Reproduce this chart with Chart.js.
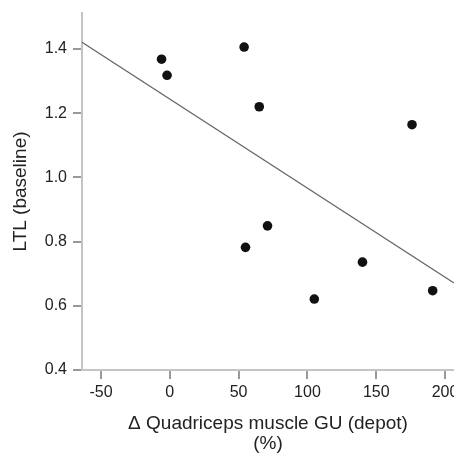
<!DOCTYPE html>
<html>
<head>
<meta charset="utf-8">
<script src="https://cdn.jsdelivr.net/npm/chart.js@4/dist/chart.umd.min.js"></script>
<style>
  html, body { margin: 0; padding: 0; background: #fff; overflow: hidden; }
  #wrap { width: 454px; height: 454px; }
</style>
</head>
<body>
<div id="wrap"><canvas id="c" width="454" height="454"></canvas></div>
<script>
// Scatter points: Δ Quadriceps muscle GU (depot) (%) vs LTL (baseline)
const gu = [-6, -2, 54, 65, 176, 71, 55, 140, 105, 191];
const ltl = [1.368, 1.318, 1.406, 1.220, 1.164, 0.849, 0.782, 0.736, 0.621, 0.647];

// Regression line endpoints
const fitX = [-63.8, 206.5];
const fitY = [1.421, 0.671];

// Axis ranges and tick labels
const xRange = [-63.8, 206.5];
const yRange = [0.4, 1.512];
const xTicks = [-50, 0, 50, 100, 150, 200];
const yTicks = [0.4, 0.6, 0.8, 1.0, 1.2, 1.4];

const xTitle = ['\u0394 Quadriceps muscle GU (depot)', '(%)'];
const yTitle = 'LTL (baseline)';

const FONT = "'Liberation Sans', Arial, Helvetica, sans-serif";

const points = gu.map((x, i) => ({ x: x, y: ltl[i] }));
const fitLine = fitX.map((x, i) => ({ x: x, y: fitY[i] }));

function zeroPad(scale) {
  scale.paddingLeft = 0; scale.paddingRight = 0;
  scale.paddingTop = 0; scale.paddingBottom = 0;
}

new Chart(document.getElementById('c'), {
  type: 'scatter',
  data: {
    datasets: [
      {
        type: 'line',
        data: fitLine,
        borderColor: '#666666',
        borderWidth: 1.3,
        pointRadius: 0,
        fill: false,
        order: 2
      },
      {
        data: points,
        backgroundColor: '#111111',
        borderColor: '#111111',
        borderWidth: 0,
        pointRadius: 4.8,
        order: 1
      }
    ]
  },
  options: {
    responsive: false,
    animation: false,
    devicePixelRatio: 1,
    layout: { autoPadding: false, padding: { top: 13, left: 0, right: 0, bottom: 0 } },
    plugins: { legend: { display: false }, tooltip: { enabled: false } },
    scales: {
      x: {
        type: 'linear',
        min: xRange[0],
        max: xRange[1],
        afterBuildTicks: s => { s.ticks = xTicks.map(v => ({ value: v })); },
        afterFit: s => { s.height = 84; zeroPad(s); },
        border: { display: true, color: '#c4c4c4', width: 2 },
        grid: { display: true, drawOnChartArea: false, drawTicks: true, tickLength: 9, tickColor: '#999999', lineWidth: 2 },
        ticks: {
          padding: 4,
          color: '#222222',
          font: { family: FONT, size: 16 },
          maxRotation: 0,
          callback: v => String(v)
        },
        title: {
          display: true,
          text: xTitle,
          color: '#222222',
          font: { family: FONT, size: 19, lineHeight: '20px' },
          padding: { top: 0, bottom: 0 }
        }
      },
      y: {
        type: 'linear',
        min: yRange[0],
        max: yRange[1],
        afterBuildTicks: s => { s.ticks = yTicks.map(v => ({ value: v })); },
        afterFit: s => { s.width = 82; zeroPad(s); },
        border: { display: true, color: '#c4c4c4', width: 2 },
        grid: { display: true, drawOnChartArea: false, drawTicks: true, tickLength: 9, tickColor: '#999999', lineWidth: 2 },
        ticks: {
          padding: 6,
          color: '#222222',
          font: { family: FONT, size: 16 },
          callback: v => Number(v).toFixed(1)
        },
        title: {
          display: true,
          text: yTitle,
          color: '#222222',
          font: { family: FONT, size: 19, lineHeight: '20px' },
          padding: { top: 11, bottom: 0 }
        }
      }
    }
  }
});
</script>
</body>
</html>
